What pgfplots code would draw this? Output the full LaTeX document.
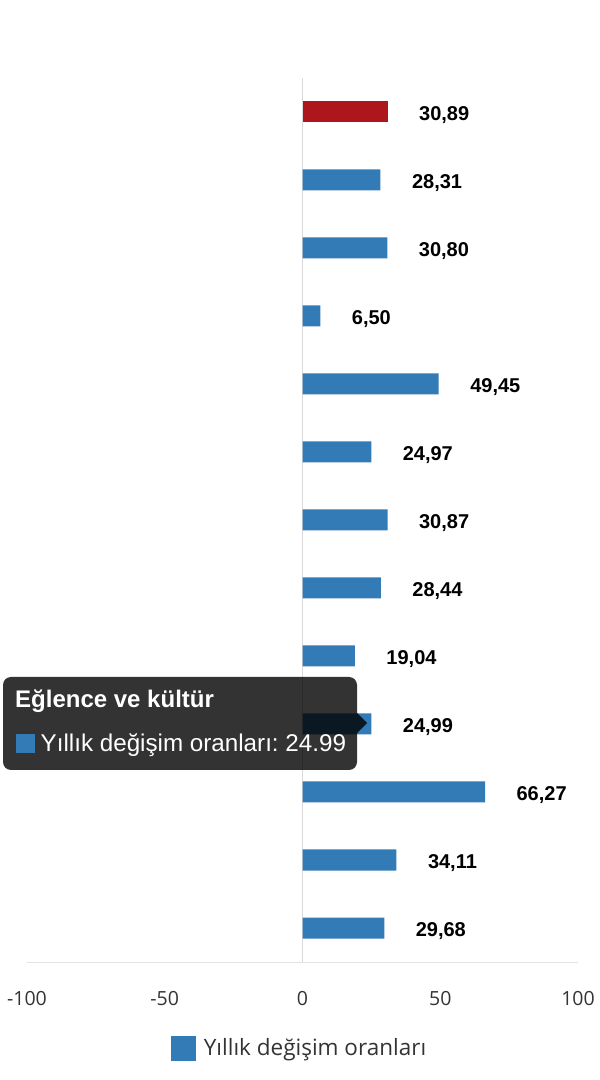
\documentclass[border=0pt]{standalone}
\usepackage{fontspec}
\setmainfont{Open Sans}
\newfontfamily\labelfont{Liberation Sans}
\usepackage{pgfplots}
\pgfplotsset{compat=1.18}

\definecolor{barblue}{HTML}{327BB6}
\definecolor{barred}{HTML}{AC161C}
\definecolor{axisgray}{HTML}{E3E3E3}
\definecolor{zerogray}{HTML}{D9D9D9}
\definecolor{ticktext}{HTML}{333333}

\begin{document}
\frenchspacing
\begin{tikzpicture}[x=1pt,y=1pt]
\path[use as bounding box] (0,0) rectangle (600,1080);
\begin{axis}[
    at={(27pt,118pt)}, anchor=south west,
    scale only axis, width=551pt, height=884pt,
    xbar, bar width=21pt, bar shift=0pt,
    xmin=-100, xmax=100, ymin=-0.5, ymax=12.5,
    xtick={-100,-50,0,50,100}, ytick=\empty,
    axis x line*=bottom, axis y line=none,
    x axis line style={draw=axisgray, line width=1pt, -},
    major tick length=0pt,
    /pgf/number format/assume math mode=true,
    xticklabel style={font=\fontsize{19.5}{19.5}\selectfont, text=ticktext, anchor=base, yshift=-43pt},
    nodes near coords={\pgfmathprintnumber[fixed,fixed zerofill,precision=2,use comma]{\pgfplotspointmeta}},
    nodes near coords style={anchor=west, xshift=28pt, yshift=-3.5pt, text=black,
        font=\labelfont\bfseries\fontsize{20}{20}\selectfont},
    legend style={at={(0.4946,0)}, anchor=center, yshift=-86pt, draw=none, fill=none,
        font=\fontsize{22.5}{22.5}\selectfont, text=ticktext,
        /tikz/every odd column/.append style={column sep=6pt}},
    legend image code/.code={\fill[barblue] (0pt,-12.5pt) rectangle (25pt,12.5pt);},
    clip=false,
]
\draw[zerogray, line width=1pt] (axis cs:0,-0.5) -- (axis cs:0,12.5);

\addplot[fill=barblue, draw=none] coordinates {
    (28.31,11) (30.80,10) (6.50,9) (49.45,8) (24.97,7) (30.87,6)
    (28.44,5) (19.04,4) (24.99,3) (66.27,2) (34.11,1) (29.68,0)};
\addlegendentry{Yıllık değişim oranları}

\addplot[fill=barred, draw=none, forget plot] coordinates {(30.89,12)};
\end{axis}

% tooltip
\fill[black, opacity=0.8, rounded corners=8pt] (3,310) rectangle (357,403);
\fill[black, opacity=0.8] (357,367) -- (367,357) -- (357,347) -- cycle;
\node[anchor=base west, inner sep=0pt, text=white,
      font=\labelfont\bfseries\fontsize{24}{24}\selectfont] at (15,372) {Eğlence ve kültür};
\fill[barblue] (16,327) rectangle (35,346);
\node[anchor=base west, inner sep=0pt, text=white,
      font=\labelfont\fontsize{24.2}{24.2}\selectfont] at (40.5,328) {Yıllık değişim oranları: 24.99};
\end{tikzpicture}
\end{document}
